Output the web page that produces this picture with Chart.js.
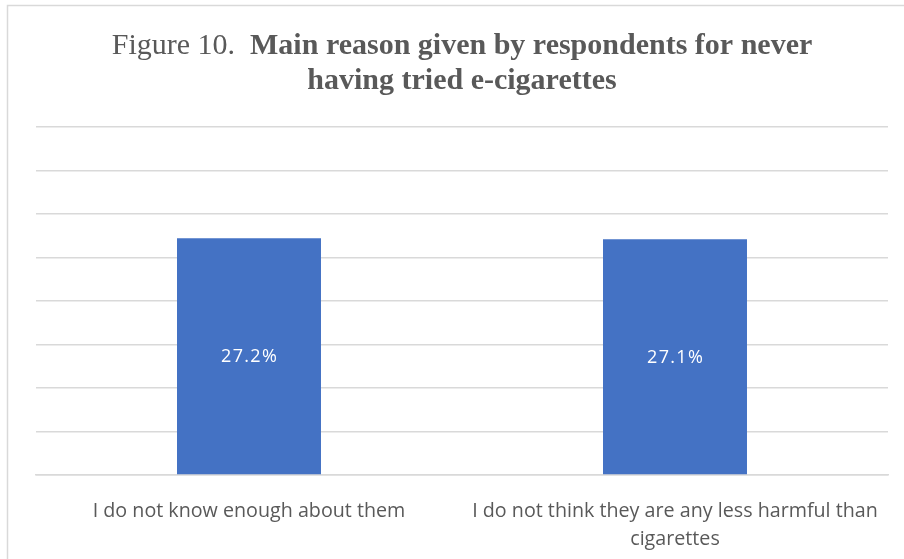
<!DOCTYPE html>
<html>
<head>
<meta charset="utf-8">
<script src="https://cdn.jsdelivr.net/npm/chart.js@4"></script>
<style>
  html, body { margin: 0; padding: 0; background: #fff; }
  #wrap { width: 904px; height: 559px; position: relative; }
</style>
</head>
<body>
<div id="wrap"><canvas id="chart" width="904" height="559"></canvas></div>
<script>
const categories = [
  'I do not know enough about them',
  ['I do not think they are any less harmful than', 'cigarettes']
];
const shares = [27.2, 27.1];
const yMax = 40;
const yStep = 5;

const titleLead = 'Figure 10.  ';
const titleBold = ['Main reason given by respondents for never', 'having tried e-cigarettes'];

// frame + two-part title (regular lead-in, bold remainder)
const titlePlugin = {
  id: 'figTitle',
  beforeDraw(chart) {
    const ctx = chart.ctx;
    ctx.save();
    ctx.strokeStyle = '#d9d9d9';
    ctx.lineWidth = 1.5;
    ctx.strokeRect(7.5, 5.5, 1000, 1000);
    ctx.restore();
  },
  afterDraw(chart) {
    const ctx = chart.ctx;
    const cx = (chart.chartArea.left + chart.chartArea.right) / 2;
    ctx.save();
    ctx.fillStyle = '#595959';
    ctx.textBaseline = 'alphabetic';
    const reg = '30px "Liberation Serif", "Times New Roman", serif';
    const bold = 'bold 30px "Liberation Serif", "Times New Roman", serif';
    ctx.font = reg;
    const w1 = ctx.measureText(titleLead).width;
    ctx.font = bold;
    const w2 = ctx.measureText(titleBold[0]).width;
    let x = cx - (w1 + w2) / 2;
    ctx.textAlign = 'left';
    ctx.font = reg;
    ctx.fillText(titleLead, x, 54);
    ctx.font = bold;
    ctx.fillText(titleBold[0], x + w1, 54);
    ctx.textAlign = 'center';
    ctx.fillText(titleBold[1], cx, 89);
    ctx.restore();
  }
};

// value labels centred inside each bar
const valueLabels = {
  id: 'valueLabels',
  afterDatasetsDraw(chart) {
    const ctx = chart.ctx;
    const meta = chart.getDatasetMeta(0);
    ctx.save();
    ctx.fillStyle = '#ffffff';
    ctx.font = '18px "Open Sans", sans-serif';
    ctx.letterSpacing = '1.3px';
    ctx.textAlign = 'center';
    ctx.textBaseline = 'middle';
    meta.data.forEach((bar, i) => {
      const mid = (bar.y + bar.base) / 2;
      ctx.fillText(shares[i].toFixed(1) + '%', bar.x + 0.6, mid + 1);
    });
    ctx.restore();
  }
};

new Chart(document.getElementById('chart'), {
  type: 'bar',
  data: {
    labels: categories,
    datasets: [{
      data: shares,
      backgroundColor: '#4472c4',
      borderWidth: 0,
      categoryPercentage: 1,
      barPercentage: 0.338
    }]
  },
  options: {
    responsive: false,
    animation: false,
    layout: { padding: { left: 36, right: 16, top: 127, bottom: 0 } },
    plugins: {
      legend: { display: false },
      tooltip: { enabled: false },
      title: { display: false }
    },
    scales: {
      x: {
        grid: { display: false },
        border: { color: '#d9d9d9', width: 1.5 },
        ticks: {
          color: '#595959',
          padding: 14,
          maxRotation: 0,
          font: { family: '"Open Sans", sans-serif', size: 19.7, lineHeight: 1.42 }
        },
        afterFit(scale) { scale.height = 84; }
      },
      y: {
        min: 0,
        max: yMax,
        ticks: { display: false, stepSize: yStep },
        border: { display: false },
        grid: { color: '#d9d9d9', lineWidth: 1.5, drawTicks: false },
        afterFit(scale) { scale.width = 0; }
      }
    }
  },
  plugins: [titlePlugin, valueLabels]
});
</script>
</body>
</html>
